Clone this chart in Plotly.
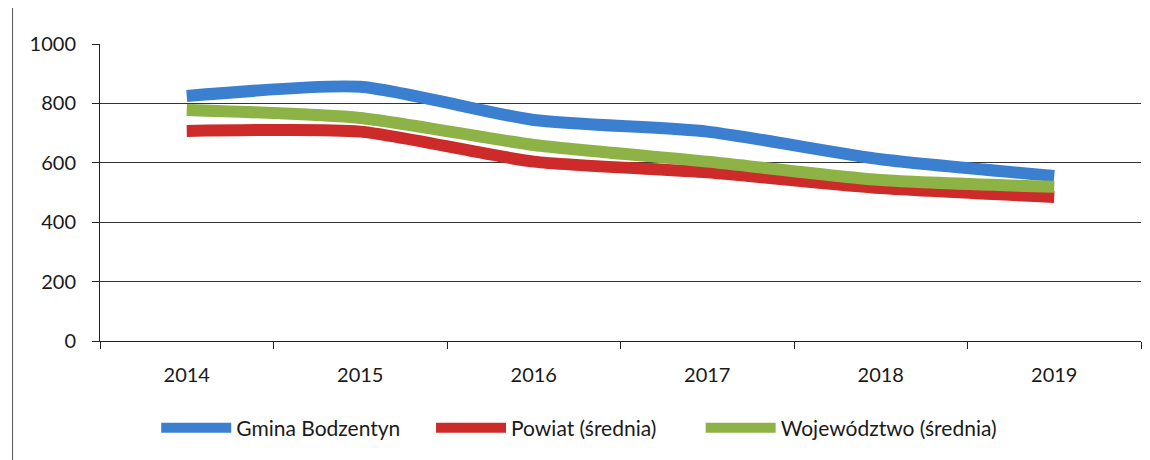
import plotly.graph_objects as go

years = ["2014", "2015", "2016", "2017", "2018", "2019"]
gmina = [825, 856, 744, 705, 612, 556]
powiat = [707, 705, 604, 568, 515, 485]
wojewodztwo = [778, 751, 660, 604, 542, 519]

series = [
    ("Gmina Bodzentyn", gmina, "#3b7fd0", "legend", 0.054),
    ("Powiat (średnia)", powiat, "#cc2b2a", "legend2", 0.318),
    ("Województwo (średnia)", wojewodztwo, "#8db246", "legend3", 0.577),
]

fig = go.Figure()
legends = {}
for name, values, color, leg, lx in series:
    fig.add_trace(go.Scatter(
        x=years, y=values, name=name, mode="lines", legend=leg, showlegend=True,
        line=dict(color=color, width=12, shape="spline", smoothing=0.6),
    ))
    legends[leg] = dict(
        orientation="h", x=lx, xanchor="left", y=-0.293, yanchor="middle",
        font=dict(size=21), itemwidth=70, bgcolor="rgba(0,0,0,0)", visible=True,
    )

# page body has an 8px margin, so the figure is a bit smaller than the window
fig.update_layout(
    width=1142, height=452,
    margin=dict(l=92, r=9, t=36, b=119),
    showlegend=True,
    paper_bgcolor="white", plot_bgcolor="white",
    font=dict(family="Lato, 'Open Sans', sans-serif", size=18, color="#1a1a1a"),
    xaxis=dict(
        type="category", tickson="boundaries", range=[-0.5, 5.5],
        ticks="outside", ticklen=7, tickcolor="#222",
        showline=True, linecolor="#222", linewidth=1,
        showgrid=False, tickfont=dict(size=20), ticklabelstandoff=16,
    ),
    yaxis=dict(
        range=[0, 1000], dtick=200, ticks="outside", ticklen=7, tickcolor="#222",
        showline=True, linecolor="#222", linewidth=1,
        gridcolor="#333", gridwidth=1, zeroline=False,
        tickfont=dict(size=20), ticklabelstandoff=12,
    ),
    shapes=[
        dict(type="line", xref="paper", yref="paper", x0=-0.084, x1=-0.084,
             y0=-0.45, y1=1.2, line=dict(color="#555", width=1)),
    ],
    **legends,
)

fig.write_html("out.html")
